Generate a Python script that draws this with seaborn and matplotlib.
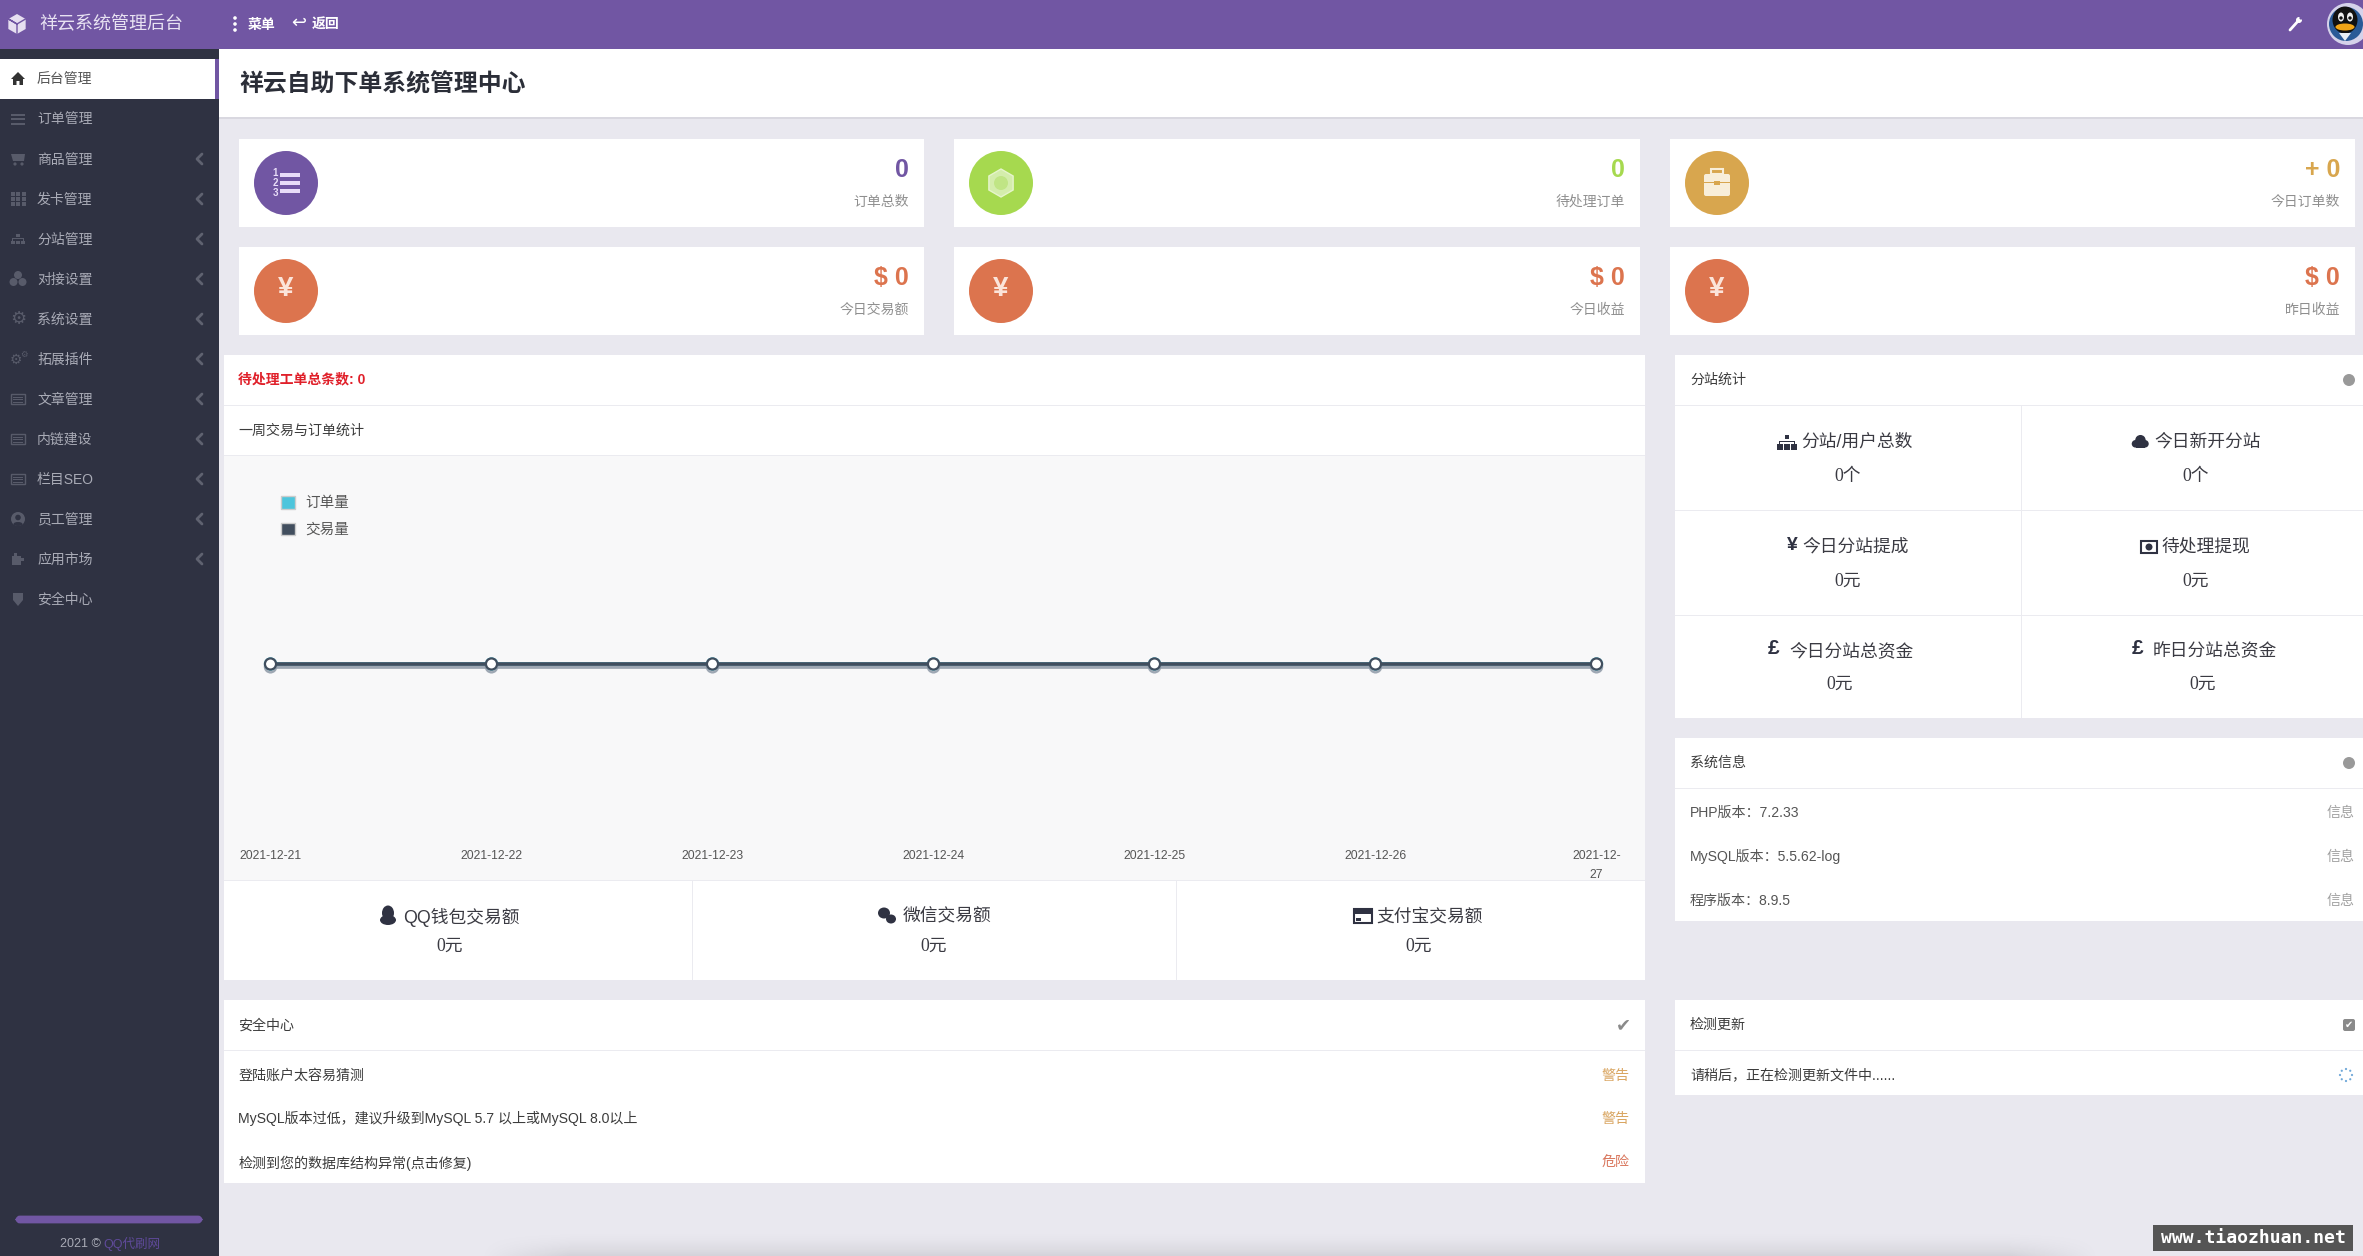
import matplotlib
matplotlib.use("Agg")
import matplotlib.pyplot as plt
import numpy as np
import pandas as pd
import seaborn as sns
from matplotlib.patches import Circle, Ellipse, FancyBboxPatch, Patch, Polygon, Rectangle, RegularPolygon
import matplotlib.patheffects as pe

W, H = 2363, 1256

# chart data
dates = ["2021-12-21", "2021-12-22", "2021-12-23", "2021-12-24", "2021-12-25", "2021-12-26", "2021-12-27"]
date_labels = ["2021-12-21", "2021-12-22", "2021-12-23", "2021-12-24", "2021-12-25", "2021-12-26", "2021-12-\n27"]
order_counts = [0, 0, 0, 0, 0, 0, 0]
trade_counts = [0, 0, 0, 0, 0, 0, 0]
series_names = ["订单量", "交易量"]

# page text
menu_labels = ["后台管理", "订单管理", "商品管理", "发卡管理", "分站管理", "对接设置", "系统设置",
               "拓展插件", "文章管理", "内链建设", "栏目SEO", "员工管理", "应用市场", "安全中心"]
menu_has_arrow = [0, 0, 1, 1, 1, 1, 1, 1, 1, 1, 1, 1, 1, 0]
card_values = ["0", "0", "+ 0", "$ 0", "$ 0", "$ 0"]
card_labels = ["订单总数", "待处理订单", "今日订单数", "今日交易额", "今日收益", "昨日收益"]
pay_labels = ["QQ钱包交易额", "微信交易额", "支付宝交易额"]
pay_values = ["0元", "0元", "0元"]
site_labels = ["分站/用户总数", "今日新开分站", "今日分站提成", "待处理提现", "今日分站总资金", "昨日分站总资金"]
site_values = ["0个", "0个", "0元", "0元", "0元", "0元"]
safety_rows = ["登陆账户太容易猜测", "MySQL版本过低，建议升级到MySQL 5.7 以上或MySQL 8.0以上", "检测到您的数据库结构异常(点击修复)"]
safety_states = ["警告", "警告", "危险"]
system_rows = ["PHP版本：7.2.33", "MySQL版本：5.5.62-log", "程序版本：8.9.5"]

PURPLE = "#7156a3"
ORANGE = "#dc744e"
GREEN = "#a6d94f"
GOLD = "#d8a64e"
NAVY = "#2f3242"
BG = "#e9e8ef"
LINE = "#ebebf0"
CJK = ["Liberation Sans", "Noto Sans CJK SC", "DejaVu Sans"]
SERIF = ["Liberation Serif", "Noto Sans CJK SC", "DejaVu Sans"]

sns.set_theme(style="white")
plt.rcParams["font.family"] = CJK
plt.rcParams["axes.unicode_minus"] = False

fig = plt.figure(figsize=(W / 100, H / 100), dpi=100, facecolor=BG)
page = fig.add_axes([0, 0, 1, 1], zorder=0)


def rect(x0, y0, x1, y1, color, z=1):
    page.add_patch(Rectangle((x0, y0), x1 - x0, y1 - y0, facecolor=color, edgecolor="none", zorder=z))


def circle(x, y, r, color, z=2):
    page.add_patch(Circle((x, y), r, facecolor=color, edgecolor="none", zorder=z))


def label(x, y, s, color="#3c3c3c", size=10.1, ha="left", weight="normal", family=None):
    page.text(x, y + 1, s, color=color, fontsize=size, ha=ha, va="center", weight=weight, family=family or CJK, zorder=4)


def glyph(x, y, s, color, size):
    page.text(x, y, s, color=color, fontsize=size, ha="center", va="center", family="DejaVu Sans", zorder=4)


def sitemap(x, y, s, color):
    rect(x - s * 0.3, y - s, x + s * 0.3, y - s * 0.35, color, 4)
    rect(x - s * 0.95, y - s * 0.15, x + s * 0.95, y - s * 0.02, color, 4)
    rect(x - s * 0.06, y - s * 0.35, x + s * 0.06, y, color, 4)
    for dx in (-s * 0.95, 0, s * 0.95):
        rect(x + dx - s * 0.36, y + s * 0.3, x + dx + s * 0.36, y + s, color, 4)
        rect(x + dx - s * 0.06, y - s * 0.1, x + dx + s * 0.06, y + s * 0.3, color, 4)


def cloud(x, y, s, color):
    circle(x - s * 0.5, y + s * 0.2, s * 0.42, color, 4)
    circle(x + s * 0.05, y - s * 0.2, s * 0.58, color, 4)
    circle(x + s * 0.55, y + s * 0.2, s * 0.42, color, 4)
    rect(x - s * 0.5, y + s * 0.1, x + s * 0.55, y + s * 0.62, color, 4)


def menu_icon(i, x, y, color):
    if i == 0:
        page.add_patch(Polygon([(x - 7, y), (x, y - 7), (x + 7, y), (x + 5, y), (x + 5, y + 6), (x + 1.5, y + 6),
                                (x + 1.5, y + 2), (x - 1.5, y + 2), (x - 1.5, y + 6), (x - 5, y + 6), (x - 5, y)],
                               facecolor=color, edgecolor="none", zorder=4))
    elif i == 1:
        for dy in (-4.5, 0, 4.5):
            rect(x - 7, y + dy - 1, x + 7, y + dy + 1, color, 4)
    elif i == 2:
        page.add_patch(Polygon([(x - 7, y - 5), (x + 7, y - 5), (x + 6, y + 2), (x - 5, y + 2)],
                               facecolor=color, edgecolor="none", zorder=4))
        circle(x - 3, y + 5, 1.6, color, 4)
        circle(x + 4, y + 5, 1.6, color, 4)
    elif i == 3:
        for dx in (-5.5, 0, 5.5):
            for dy in (-5, 0, 5):
                rect(x + dx - 2, y + dy - 2, x + dx + 2, y + dy + 2, color, 4)
    elif i == 4:
        sitemap(x, y, 5.5, color)
    elif i == 5:
        for dx, dy in ((0, -4), (-4.5, 3), (4.5, 3)):
            circle(x + dx, y + dy, 4, color, 4)
    elif i == 6:
        glyph(x, y, "⚙", color, 13)
    elif i == 7:
        glyph(x - 2, y + 1, "⚙", color, 10)
        glyph(x + 6, y - 5, "⚙", color, 6)
    elif i in (8, 9, 10):
        page.add_patch(Rectangle((x - 7, y - 5), 14, 10, facecolor="none", edgecolor=color, lw=1, zorder=4))
        for dy in (-2, 0.5, 3):
            rect(x - 5, y + dy - 0.5, x + 5, y + dy + 0.5, color, 4)
    elif i == 11:
        circle(x, y, 7, color, 4)
        circle(x, y - 1.5, 2.8, NAVY, 5)
        page.add_patch(Ellipse((x, y + 5), 9, 4, facecolor=NAVY, edgecolor="none", zorder=5))
    elif i == 12:
        rect(x - 6, y - 3, x + 3, y + 6, color, 4)
        rect(x - 4, y - 6, x - 1, y - 3, color, 4)
        rect(x + 3, y - 1, x + 6, y + 2, color, 4)
    else:
        page.add_patch(Polygon([(x - 5, y - 6), (x + 5, y - 6), (x + 5, y + 1), (x, y + 7), (x - 5, y + 1)],
                               facecolor=color, edgecolor="none", zorder=4))


# page frame
rect(0, 49, 219, H, NAVY)
rect(0, 0, W, 49, PURPLE, 2)
rect(219, 49, W, 117, "#ffffff")
rect(219, 117, W, 119, "#d9d8e0")
rect(0, 59, 215, 99, "#ffffff", 2)
rect(215, 59, 219, 99, PURPLE, 2)
label(239, 84, "祥云自助下单系统管理中心", "#2b2e38", 17.2, weight="bold")

# top bar
page.add_patch(RegularPolygon((17, 24), 6, radius=10, facecolor="#e6dff0", edgecolor="none", zorder=4))
page.plot([17, 17, 8.5, 17, 25.5], [34, 24, 19, 24, 19], color=PURPLE, lw=1, zorder=5)
label(39, 24, "祥云系统管理后台", "#e8e2f2", 13)
for dy in (-6, 0, 6):
    circle(235, 24 + dy, 1.8, "#ffffff", 4)
label(248, 24, "菜单", "#ffffff", 10, weight="bold")
glyph(299, 23, "↩", "#ffffff", 13)
label(312, 24, "返回", "#ffffff", 10, weight="bold")
page.plot([2290, 2299], [30, 20], color="#ffffff", lw=2, zorder=4)
circle(2299, 20, 3, "#ffffff", 4)
circle(2301, 18, 1.6, PURPLE, 5)
circle(2348, 24, 21, "#d5d2ea", 4)
circle(2346, 24, 17, "#2a5a97", 5)
page.add_patch(Ellipse((2345, 20), 25, 27, facecolor="#111111", edgecolor="none", zorder=6))
page.add_patch(Ellipse((2341, 17), 6, 9, facecolor="#eeeeee", edgecolor="none", zorder=7))
page.add_patch(Ellipse((2350, 17), 6, 9, facecolor="#eeeeee", edgecolor="none", zorder=7))
circle(2341, 18, 1.7, "#111111", 8)
circle(2350, 18, 1.7, "#111111", 8)
page.add_patch(Ellipse((2345, 27), 19, 7, facecolor="#f2a516", edgecolor="none", zorder=8))
page.add_patch(Polygon([(2339, 33), (2351, 33), (2345, 41)], facecolor="#e8eef5", edgecolor="none", zorder=8))

# side menu
for i, name in enumerate(menu_labels):
    y = 79 + 40 * i
    active = i == 0
    menu_icon(i, 18, y, "#333333" if active else "#585b6a")
    label(37, y, name, "#555555" if active else "#a9abb6", 10)
    if menu_has_arrow[i]:
        page.plot([202, 197, 202], [y - 5, y, y + 5], color="#5f6270", lw=2, zorder=4)
page.add_patch(FancyBboxPatch((17, 1217), 184, 5, boxstyle="round,pad=0,rounding_size=3", mutation_aspect=1,
                              facecolor=PURPLE, edgecolor=PURPLE, lw=2, zorder=3))
label(60, 1243, "2021 ©", "#a9abb6", 9)
label(103, 1243, "QQ代刷网", "#5f4a9a", 9)

# stat cards
card_x = [(239, 924, 286), (954, 1640, 1001), (1670, 2355, 1717)]
card_colors = [PURPLE, GREEN, GOLD, ORANGE, ORANGE, ORANGE]
for i in range(6):
    x0, x1, cx = card_x[i % 3]
    y0 = 139 if i < 3 else 247
    rect(x0, y0, x1, y0 + 88, "#ffffff")
    cy = y0 + 44
    circle(cx, cy, 32, card_colors[i])
    label(x1 - 15, y0 + 30, card_values[i], card_colors[i], 18, ha="right", weight="bold")
    label(x1 - 15, y0 + 62, card_labels[i], "#8f8f8f", 10, ha="right")
    if i == 0:
        for dy in (-8, 0, 8):
            rect(cx - 6, cy + dy - 2, cx + 14, cy + dy + 2, "#e8dcf8", 4)
        for n, dy in zip("123", (-10, 0, 10)):
            label(cx - 11, cy + dy - 1, n, "#e8dcf8", 7, ha="center", weight="bold")
    elif i == 1:
        page.add_patch(RegularPolygon((cx, cy), 6, radius=14, facecolor="#d4edac", edgecolor="#e6f5cc", zorder=4))
        circle(cx, cy, 7, "#c0e585", 5)
    elif i == 2:
        page.add_patch(FancyBboxPatch((cx - 13, cy - 9), 26, 22, boxstyle="round,pad=0,rounding_size=2",
                                      facecolor="#f8eed9", edgecolor="none", zorder=4))
        page.add_patch(Rectangle((cx - 6, cy - 14), 12, 5, facecolor="none", edgecolor="#f8eed9", lw=1.5, zorder=4))
        rect(cx - 13, cy - 1, cx + 13, cy, GOLD, 5)
        rect(cx - 3, cy - 2, cx + 3, cy + 2, GOLD, 5)
    else:
        label(cx, cy - 3, "¥", "#fbe4da", 20, ha="center", weight="bold")

# chart panel
rect(224, 355, 1645, 980, "#ffffff")
rect(224, 405, 1645, 406, LINE, 2)
rect(224, 455, 1645, 456, LINE, 2)
rect(224, 880, 1645, 881, LINE, 5)
label(238.5, 378, "待处理工单总条数: 0", "#e0202a", 10, weight="bold")
label(238.5, 430, "一周交易与订单统计")

# bottom row of chart panel
for x in (692, 1176):
    rect(x, 881, x + 1, 980, LINE, 2)
pay_text_x = [403, 903, 1376]
pay_value_x = [450, 934, 1419]
for i in range(3):
    label(pay_text_x[i], 916, pay_labels[i], "#3a3a42", 12.8)
    label(pay_value_x[i], 945, pay_values[i], "#3a3a42", 12.8, ha="center", family=SERIF)
page.add_patch(Ellipse((388, 913), 12, 15, facecolor=NAVY, edgecolor="none", zorder=4))
page.add_patch(Ellipse((388, 920), 16, 10, facecolor=NAVY, edgecolor="none", zorder=4))
page.add_patch(Ellipse((884, 913), 12, 11, facecolor=NAVY, edgecolor="none", zorder=4))
page.add_patch(Ellipse((891, 919), 10, 9, facecolor=NAVY, edgecolor="none", zorder=4))
page.add_patch(Rectangle((1354, 909), 18, 14, facecolor="#ffffff", edgecolor=NAVY, lw=1.5, zorder=4))
rect(1354, 909, 1372, 914, NAVY, 5)
rect(1356, 918, 1361, 921, NAVY, 5)

# right column: branch stats
rect(1675, 355, W, 718, "#ffffff")
rect(1675, 405, W, 406, LINE, 2)
rect(1675, 510, W, 511, LINE, 2)
rect(1675, 615, W, 616, LINE, 2)
rect(2021, 406, 2022, 718, LINE, 2)
label(1690, 379, "分站统计")
circle(2349, 380, 6, "#999999")
site_text_x = [1801, 2154, 1802, 2162, 1789, 2153]
site_value_x = [1848, 2196, 1848, 2196, 1840, 2203]
site_text_y = [441, 441, 546, 546, 651, 651]
site_value_y = [476, 476, 580, 580, 683, 683]
for i in range(6):
    label(site_text_x[i], site_text_y[i], site_labels[i], "#3a3a42", 12.8)
    label(site_value_x[i], site_value_y[i], site_values[i], "#3a3a42", 12.8, ha="center", family=SERIF)
sitemap(1787, 442, 7.5, NAVY)
cloud(2140, 442, 9, NAVY)
label(1792, 544, "¥", NAVY, 14, ha="center", weight="bold")
page.add_patch(Rectangle((2141, 541), 16, 12, facecolor="#ffffff", edgecolor=NAVY, lw=1.5, zorder=4))
circle(2149, 547, 3.5, NAVY, 5)
label(1774, 648, "£", NAVY, 15, ha="center", weight="bold")
label(2138, 648, "£", NAVY, 15, ha="center", weight="bold")

# right column: system info
rect(1675, 738, W, 921, "#ffffff")
rect(1675, 788, W, 789, LINE, 2)
label(1690, 762, "系统信息")
circle(2349, 763, 6, "#999999")
for y, row in zip((812, 856, 900), system_rows):
    label(1690, y, row, "#555555")
    label(2355, y, "信息", "#a0a0a0", ha="right")

# safety panel
rect(224, 1000, 1645, 1183, "#ffffff")
rect(224, 1050, 1645, 1051, LINE, 2)
label(238.5, 1025, "安全中心")
glyph(1623, 1025, "✔", "#8a8a8a", 13)
state_colors = ["#d9a560", "#d9a560", "#d9765c"]
for y, row, state, color in zip((1075, 1118, 1162), safety_rows, safety_states, state_colors):
    label(238.5, y, row)
    label(1630, y, state, color, ha="right")

# update panel
rect(1675, 1000, W, 1095, "#ffffff")
rect(1675, 1050, W, 1051, LINE, 2)
label(1690, 1024, "检测更新")
page.add_patch(FancyBboxPatch((2343, 1019), 12, 12, boxstyle="round,pad=0,rounding_size=2",
                              facecolor="#8a8a8a", edgecolor="none", zorder=4))
glyph(2349, 1025, "✔", "#ffffff", 7)
label(1690, 1074, "请稍后，正在检测更新文件中......")
for a in np.linspace(0, 2 * np.pi, 9)[:-1]:
    circle(2346 + 6 * np.sin(a), 1075 + 6 * np.cos(a), 1.1, "#6fa8d8", 4)

# soft shadow along the page bottom
ramp_y = np.linspace(0, 1, 28) ** 2
ramp_x = np.clip(np.minimum(np.arange(1620), np.arange(1620)[::-1]) / 90, 0, 1)
shadow = np.zeros((28, 1620, 4))
shadow[..., 3] = 0.09 * np.outer(ramp_y, ramp_x)
page.imshow(shadow, extent=(480, 2100, 1256, 1228), aspect="auto", zorder=1, interpolation="bilinear")

rect(2153, 1225, 2353, 1251, "#555555", 5)
page.text(2253, 1238, "www.tiaozhuan.net", color="#ffffff", fontsize=13, ha="center", va="center",
          family="DejaVu Sans Mono", weight="bold", zorder=6)

page.set_xlim(0, W)
page.set_ylim(H, 0)
page.axis("off")

# the chart itself
frame = pd.DataFrame({
    "date": dates * 2,
    "value": order_counts + trade_counts,
    "series": [series_names[0]] * 7 + [series_names[1]] * 7,
})
colors = {series_names[0]: "#4dc5dc", series_names[1]: "#414e5e"}

ax = fig.add_axes([224 / W, 1 - 880 / H, 1421 / W, 424 / H], zorder=1, facecolor="#f8f8f9")
sns.lineplot(data=frame, x="date", y="value", hue="series", palette=colors, ax=ax, legend=False,
             linewidth=2.6, marker="o", markersize=8, markerfacecolor="#ffffff", markeredgewidth=1.6,
             errorbar=None, sort=False)
for line in ax.lines:
    line.set_path_effects([pe.SimpleLineShadow(offset=(0, -2), shadow_color="#8d98a6", alpha=0.6), pe.Normal()])
    line.set_markeredgecolor(line.get_color())
    line.set_clip_on(False)
ax.set_xlim(-46.5 / 221, 1374.5 / 221)
ax.set_ylim(-216 / 208, 1)
ax.set_xticks(range(len(date_labels)), date_labels)
ax.set_yticks([])
ax.set_xlabel("")
ax.set_ylabel("")
ax.tick_params(axis="x", length=0, pad=-21.5, labelsize=8.7, labelcolor="#555555")
for tick in ax.get_xticklabels():
    tick.set_linespacing(1.75)
for spine in ax.spines.values():
    spine.set_visible(False)
handles = [Patch(facecolor=colors[name], edgecolor="#cccccc", linewidth=1, label=name) for name in series_names]
ax.legend(handles=handles, loc="upper left", bbox_to_anchor=(57 / 1421, 1 - 40 / 424), frameon=False,
          fontsize=10.5, labelcolor="#555555", handlelength=0.95, handleheight=0.95, handletextpad=0.72,
          labelspacing=0.85, borderpad=0, borderaxespad=0)

fig.savefig("out.png", dpi=100, facecolor=BG)
